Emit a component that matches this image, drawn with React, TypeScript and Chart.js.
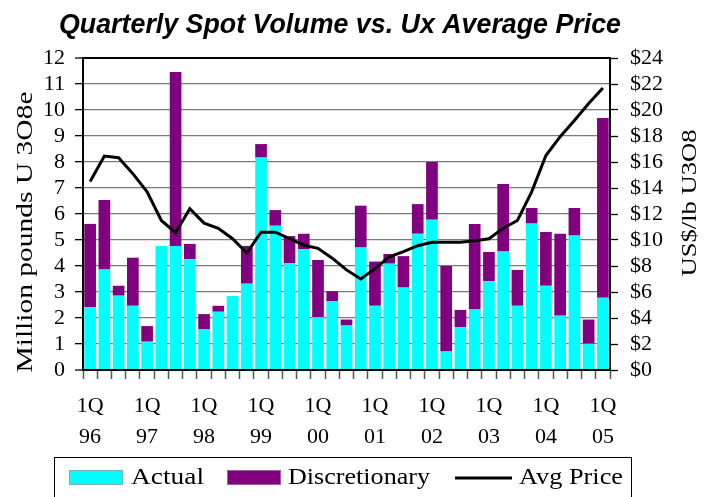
import React, { useEffect, useRef } from 'react';
import { Chart, registerables } from 'chart.js';

Chart.register(...registerables);

const TITLE = 'Quarterly Spot Volume vs. Ux Average Price';
const LEFT_TITLE = 'Million pounds U 3O8e';
const RIGHT_TITLE = 'US$/lb U3O8';

const categories = [
  '1Q96', '2Q96', '3Q96', '4Q96',
  '1Q97', '2Q97', '3Q97', '4Q97',
  '1Q98', '2Q98', '3Q98', '4Q98',
  '1Q99', '2Q99', '3Q99', '4Q99',
  '1Q00', '2Q00', '3Q00', '4Q00',
  '1Q01', '2Q01', '3Q01', '4Q01',
  '1Q02', '2Q02', '3Q02', '4Q02',
  '1Q03', '2Q03', '3Q03', '4Q03',
  '1Q04', '2Q04', '3Q04', '4Q04',
  '1Q05',
];

const actual = [
  2.41, 3.87, 2.86, 2.47, 1.09, 4.77, 4.77, 4.26, 1.56, 2.24, 2.85, 3.32,
  8.17, 5.55, 4.10, 4.64, 2.03, 2.64, 1.71, 4.71, 2.47, 4.09, 3.17, 5.24,
  5.78, 0.71, 1.64, 2.33, 3.41, 4.56, 2.47, 5.63, 3.24, 2.09, 5.17, 1.01,
  2.78,
];

const discretionary = [
  3.21, 2.67, 0.38, 1.85, 0.60, 0, 6.69, 0.59, 0.59, 0.23, 0, 1.45,
  0.52, 0.60, 1.05, 0.60, 2.20, 0.39, 0.23, 1.61, 1.70, 0.37, 1.21, 1.14,
  2.22, 3.29, 0.67, 3.29, 1.13, 2.59, 1.38, 0.60, 2.07, 3.15, 1.06, 0.93,
  6.91,
];

const avgPrice = [
  14.5, 16.46, 16.33, 15.1, 13.7, 11.5, 10.56, 12.4, 11.3, 10.9, 10.1, 9.0,
  10.6, 10.6, 10.1, 9.6, 9.36, 8.6, 7.7, 7.0, 7.8, 8.7, 9.1, 9.56,
  9.82, 9.82, 9.82, 9.95, 10.1, 10.9, 11.5, 13.7, 16.5, 17.95, 19.2, 20.5,
  21.7,
];

const SERIF = '"Liberation Serif", "Times New Roman", serif';
const SANS = '"Liberation Sans", Arial, sans-serif';

function drawFitted(
  ctx: CanvasRenderingContext2D,
  text: string,
  font: string,
  x: number,
  y: number,
  width: number,
  angle: number,
  align: CanvasTextAlign,
  baseline: CanvasTextBaseline
) {
  ctx.save();
  ctx.font = font;
  ctx.fillStyle = '#000';
  const w = ctx.measureText(text).width;
  ctx.translate(x, y);
  ctx.rotate(angle);
  ctx.scale(width / w, 1);
  ctx.textAlign = align;
  ctx.textBaseline = baseline;
  ctx.fillText(text, 0, 0);
  ctx.restore();
}

const decorPlugin = {
  id: 'decor',
  afterDraw(chart: any) {
    const ctx: CanvasRenderingContext2D = chart.ctx;
    // Title
    drawFitted(ctx, TITLE, `italic bold 27px ${SANS}`, 340, 33, 562, 0, 'center', 'alphabetic');
    // Axis titles
    drawFitted(ctx, LEFT_TITLE, `23px ${SERIF}`, 26, 232, 281, -Math.PI / 2, 'center', 'middle');
    drawFitted(ctx, RIGHT_TITLE, `22px ${SERIF}`, 690, 203, 147, -Math.PI / 2, 'center', 'middle');

    // Legend
    ctx.save();
    ctx.fillStyle = '#fff';
    ctx.fillRect(54, 457, 577, 60);
    ctx.strokeStyle = '#000';
    ctx.lineWidth = 1;
    ctx.strokeRect(54.5, 457.5, 577, 60);
    const ly = 478;
    ctx.fillStyle = '#00FFFF';
    ctx.fillRect(69, 470, 54, 15);
    ctx.strokeStyle = '#7fb0b0';
    ctx.strokeRect(69.5, 470.5, 53, 14);
    ctx.fillStyle = '#800080';
    ctx.fillRect(227, 470, 54, 15);
    ctx.strokeStyle = '#a060a0';
    ctx.strokeRect(227.5, 470.5, 53, 14);
    ctx.strokeStyle = '#000';
    ctx.lineWidth = 3;
    ctx.beginPath();
    ctx.moveTo(455, ly);
    ctx.lineTo(512, ly);
    ctx.stroke();
    ctx.restore();
    const lf = `23px ${SERIF}`;
    drawFitted(ctx, 'Actual', lf, 131, ly, 73, 0, 'left', 'middle');
    drawFitted(ctx, 'Discretionary', lf, 288, ly, 142, 0, 'left', 'middle');
    drawFitted(ctx, 'Avg Price', lf, 519, ly, 104, 0, 'left', 'middle');
  },
};

export default function App() {
  const canvasRef = useRef<HTMLCanvasElement | null>(null);

  useEffect(() => {
    document.body.style.margin = '0';
    const canvas = canvasRef.current;
    if (!canvas) return;
    const chart = new Chart(canvas, {
      type: 'bar',
      data: {
        labels: categories,
        datasets: [
          {
            type: 'line',
            label: 'Avg Price',
            data: avgPrice,
            borderColor: '#000',
            borderWidth: 3,
            pointRadius: 0,
            tension: 0,
            yAxisID: 'y1',
            order: 0,
          } as any,
          {
            label: 'Actual',
            data: actual,
            backgroundColor: '#00FFFF',
            barPercentage: 0.82,
            categoryPercentage: 1,
            yAxisID: 'y',
            stack: 's',
            order: 1,
          },
          {
            label: 'Discretionary',
            data: discretionary,
            backgroundColor: '#800080',
            barPercentage: 0.82,
            categoryPercentage: 1,
            yAxisID: 'y',
            stack: 's',
            order: 2,
          },
        ],
      },
      options: {
        animation: false,
        responsive: false,
        devicePixelRatio: 1,
        layout: { padding: { top: 58, left: 0, right: 0, bottom: 0 } },
        plugins: {
          legend: { display: false },
          title: { display: false },
          tooltip: { enabled: false },
        },
        scales: {
          x: {
            stacked: true,
            offset: true,
            grid: {
              offset: true,
              drawOnChartArea: false,
              tickLength: 9,
              tickColor: '#555',
              tickWidth: 1.5,
            },
            border: { color: '#000', width: 2 },
            ticks: {
              autoSkip: false,
              maxRotation: 0,
              minRotation: 0,
              padding: 12,
              color: '#000',
              font: { family: SERIF, size: 22, lineHeight: '31px' },
              callback: (_v: any, idx: number) => {
                const c = categories[idx];
                return c.startsWith('1Q') ? ['1Q', c.slice(2)] : '';
              },
            },
            afterFit: (s: any) => {
              s.height = 127;
            },
          },
          y: {
            stacked: true,
            position: 'left',
            min: 0,
            max: 12,
            ticks: {
              stepSize: 1,
              autoSkip: false,
              padding: 10,
              color: '#000',
              font: { family: SERIF, size: 22, lineHeight: 1 },
            },
            grid: {
              color: (c: any) =>
                c.tick && (c.tick.value === 12 || c.tick.value === 0) ? '#000' : '#7a7a7a',
              lineWidth: (c: any) =>
                c.tick && (c.tick.value === 12 || c.tick.value === 0) ? 2 : 1.3,
              tickLength: 8,
              tickColor: '#000',
              tickWidth: 1.3,
            },
            border: { color: '#000', width: 2 },
            afterFit: (s: any) => {
              s.width = 83;
            },
          },
          y1: {
            position: 'right',
            min: 0,
            max: 24,
            ticks: {
              stepSize: 2,
              autoSkip: false,
              padding: 12,
              color: '#000',
              font: { family: SERIF, size: 22, lineHeight: 1 },
              callback: (v: any) => '$' + v,
            },
            grid: {
              drawOnChartArea: false,
              tickLength: 8,
              tickColor: '#000',
              tickWidth: 1.3,
            },
            border: { color: '#000', width: 2 },
            afterFit: (s: any) => {
              s.width = 97;
            },
          },
        },
      } as any,
      plugins: [decorPlugin],
    });
    return () => chart.destroy();
  }, []);

  return (
    <div style={{ position: 'relative', width: 707, height: 497, background: '#fff' }}>
      <canvas ref={canvasRef} width={707} height={497} />
    </div>
  );
}
